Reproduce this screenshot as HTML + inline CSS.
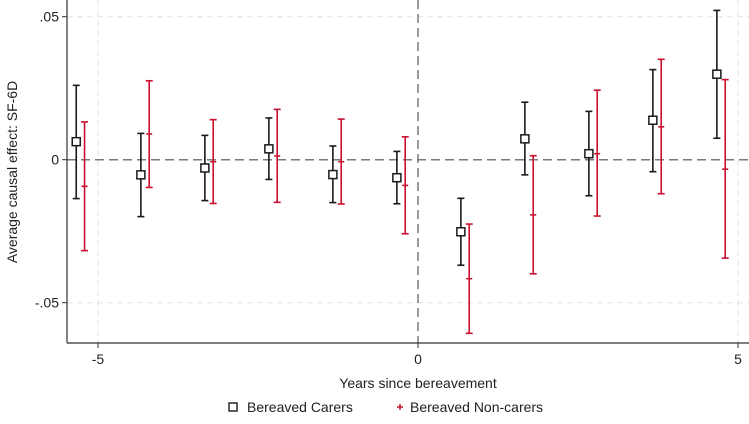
<!DOCTYPE html>
<html><head><meta charset="utf-8"><style>
html,body{margin:0;padding:0;background:#fff;}
svg{display:block;font-family:"Liberation Sans",Arial,sans-serif;}
</style></head><body>
<svg id="chart" width="749" height="424" viewBox="0 0 749 424"></svg>
<script>
const xCarers = [-5.34,-4.33,-3.33,-2.33,-1.33,-0.33,0.67,1.67,2.67,3.67,4.67];
const xNonCarers = [-5.21,-4.2,-3.2,-2.2,-1.2,-0.2,0.8,1.8,2.8,3.8,4.8];
const carersEst = [0.0063,-0.0053,-0.0029,0.0038,-0.0052,-0.0063,-0.0252,0.0073,0.0021,0.0138,0.0299];
const carersHi  = [0.026,0.0092,0.0085,0.0146,0.0048,0.0029,-0.0135,0.0201,0.0169,0.0315,0.0522];
const carersLo  = [-0.0136,-0.0199,-0.0143,-0.0069,-0.015,-0.0154,-0.0369,-0.0053,-0.0126,-0.0042,0.0075];
const nonEst = [-0.0093,0.009,-0.0007,0.0013,-0.0007,-0.009,-0.0416,-0.0193,0.0021,0.0115,-0.0033];
const nonHi  = [0.0132,0.0276,0.014,0.0176,0.0142,0.008,-0.0225,0.0014,0.0243,0.0351,0.028];
const nonLo  = [-0.0318,-0.0097,-0.0153,-0.0149,-0.0155,-0.0259,-0.0607,-0.0399,-0.0197,-0.0119,-0.0344];
const xTicks = [-5,0,5];
const xTickLabels = ["-5","0","5"];
const yTicks = [0.05,0,-0.05];
const yTickLabels = [".05","0","-.05"];

const svg = document.getElementById('chart');
const NS = 'http://www.w3.org/2000/svg';
const L=67, R=749, T=0, B=343;
const sx = v => 418 + v*64;
const sy = v => 159.7 - v*2860;
function mk(tag, attrs, parent){const e=document.createElementNS(NS,tag);for(const k in attrs)e.setAttribute(k,attrs[k]);(parent||svg).appendChild(e);return e;}

// grid
yTicks.forEach((t,i)=>{ if(t!==0){const g=mk('line',{x1:L,x2:R,y1:sy(t),y2:sy(t),stroke:'#e3e3e3','stroke-dasharray':'6,4','stroke-width':1});

}});
xTicks.forEach((t,i)=>{ if(t!==0){const g=mk('line',{x1:sx(t),x2:sx(t),y1:T,y2:B,stroke:'#e3e3e3','stroke-dasharray':'6,4','stroke-width':1});

}});
// reference lines
const h0=mk('line',{x1:L,x2:R,y1:sy(0),y2:sy(0),stroke:'#7a7a7a','stroke-dasharray':'9,5','stroke-width':1.5});


const v0=mk('line',{x1:sx(0),x2:sx(0),y1:T,y2:B,stroke:'#7a7a7a','stroke-dasharray':'9,5','stroke-width':1.5});


// axes
const ya=mk('line',{x1:L,x2:L,y1:T,y2:B,stroke:'#333','stroke-width':1.2});


const xa=mk('line',{x1:L,x2:R,y1:B,y2:B,stroke:'#333','stroke-width':1.2});


yTicks.forEach((t,i)=>{
 const tk=mk('line',{x1:L-5,x2:L,y1:sy(t),y2:sy(t),stroke:'#333'});
 
 
 const tx=mk('text',{x:L-8,y:sy(t)+5,'text-anchor':'end','font-size':14,fill:'#222'});
 tx.textContent=yTickLabels[i];
 
 
});
xTicks.forEach((t,i)=>{
 const tk=mk('line',{x1:sx(t),x2:sx(t),y1:B,y2:B+5,stroke:'#333'});
 
 
 const tx=mk('text',{x:sx(t),y:B+21,'text-anchor':'middle','font-size':14,fill:'#222'});
 tx.textContent=xTickLabels[i];
 
 
});
const xt=mk('text',{x:418,y:388,'text-anchor':'middle','font-size':14,fill:'#222'});
xt.textContent='Years since bereavement';


const yt=mk('text',{x:0,y:0,'text-anchor':'middle','font-size':14,fill:'#222',transform:'translate(17,172) rotate(-90)'});
yt.textContent='Average causal effect: SF-6D';



function series(xs,est,lo,hi,color,marker,name){
 xs.forEach((x,i)=>{
  const g=mk('g',{});
  
  
  const px=sx(x);
  mk('line',{x1:px,x2:px,y1:sy(hi[i]),y2:sy(lo[i]),stroke:color,'stroke-width':1.6},g);
  mk('line',{x1:px-3.5,x2:px+3.5,y1:sy(hi[i]),y2:sy(hi[i]),stroke:color,'stroke-width':1.6},g);
  mk('line',{x1:px-3.5,x2:px+3.5,y1:sy(lo[i]),y2:sy(lo[i]),stroke:color,'stroke-width':1.6},g);
  if(marker==='square') mk('rect',{x:px-4,y:sy(est[i])-4,width:8,height:8,fill:'#fff',stroke:color,'stroke-width':1.5},g);
  else mk('line',{x1:px-3,x2:px+3,y1:sy(est[i]),y2:sy(est[i]),stroke:color,'stroke-width':1.6},g);
 });
}
series(xCarers,carersEst,carersLo,carersHi,'#1a1a1a','square','carers');
series(xNonCarers,nonEst,nonLo,nonHi,'#c8102e','plus','non-carers');

// legend
const lg=mk('g',{});


const l1=mk('g',{},lg);


mk('rect',{x:229,y:403,width:8,height:8,fill:'#fff',stroke:'#1a1a1a','stroke-width':1.4},l1);
const t1=mk('text',{x:247,y:412,'font-size':14,fill:'#222'},l1);t1.textContent='Bereaved Carers';
const l2=mk('g',{},lg);


mk('line',{x1:397,x2:403,y1:407,y2:407,stroke:'#c8102e','stroke-width':1.5},l2);
mk('line',{x1:400,x2:400,y1:404,y2:410,stroke:'#c8102e','stroke-width':1.5},l2);
const t2=mk('text',{x:410,y:412,'font-size':14,fill:'#222'},l2);t2.textContent='Bereaved Non-carers';
</script>
</body></html>
